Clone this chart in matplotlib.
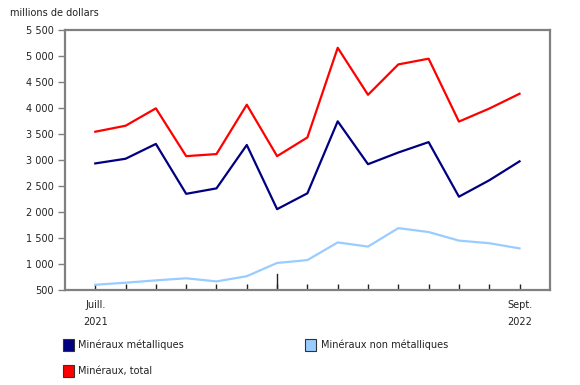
import numpy as np
import matplotlib
matplotlib.use("Agg")
import matplotlib.pyplot as plt
from matplotlib.patches import Rectangle

months = ['Juill.\n2021', '', '', '', '', '', '', '', '', '', '', '', '', '', 'Sept.\n2022']
metal = [2935, 3025, 3310, 2350, 2455, 3290, 2055, 2360, 3745, 2920, 3145, 3345, 2295, 2610, 2975]
non_metal = [600, 640, 685, 725, 665, 765, 1020, 1075, 1415, 1335, 1690, 1615, 1450, 1400, 1300]
total = [3545, 3660, 3995, 3075, 3115, 4065, 3075, 3435, 5160, 4255, 4840, 4950, 3740, 3990, 4275]

c_metal = '#000080'
c_non = '#99ccff'
c_total = '#ff0000'
frame = '#808080'

plt.rcParams['font.family'] = ['Verdana', 'DejaVu Sans']
fig = plt.figure(figsize=(5.8, 3.85), dpi=100)
ax = fig.add_axes([0.112, 0.2468, 0.836, 0.675])

x = np.arange(len(months))
ax.plot(x, metal, color=c_metal, lw=1.6)
ax.plot(x, non_metal, color=c_non, lw=1.6)
ax.plot(x, total, color=c_total, lw=1.6)

ax.set_xlim(-1, 15)
ax.set_ylim(500, 5500)
yt = np.arange(500, 5501, 500)
ax.set_yticks(yt)
ax.set_yticklabels(['{:,}'.format(v).replace(',', ' ') for v in yt], fontsize=7, color='#222222')
ax.set_xticks(x)
ax.set_xticklabels(months, fontsize=7, color='#222222', linespacing=1.9)
ax.tick_params(axis='y', direction='out', length=5, width=1, color=frame, pad=3)
ax.tick_params(axis='x', direction='in', length=4, width=1, color='#222222', pad=7)
# longer tick marking the new year
ax.plot([6, 6], [500, 800], color='#222222', lw=1)

for s in ax.spines.values():
    s.set_color(frame)
    s.set_linewidth(1.6)

fig.text(0.017, 0.965, 'millions de dollars', fontsize=7, color='#222222', va='center')

# legend
leg = [(0.108, 0.104, c_metal, 'Minéraux métalliques'),
       (0.526, 0.104, c_non, 'Minéraux non métalliques'),
       (0.108, 0.037, c_total, 'Minéraux, total')]
for lx, ly, col, lab in leg:
    fig.patches.append(Rectangle((lx, ly - 0.015), 0.019, 0.03, transform=fig.transFigure,
                                 facecolor=col, edgecolor='#333333', lw=0.8))
    fig.text(lx + 0.027, ly, lab, fontsize=7, color='#222222', va='center')

fig.savefig('out.png', dpi=100)
